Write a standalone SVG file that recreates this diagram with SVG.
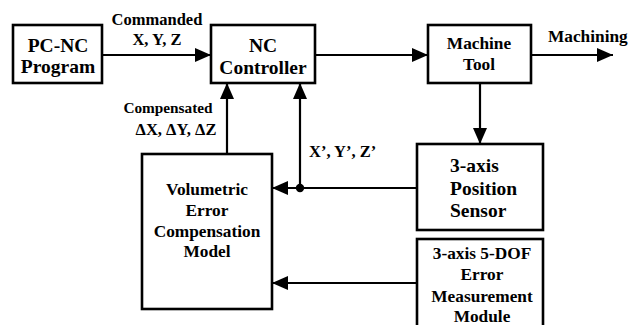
<svg xmlns="http://www.w3.org/2000/svg" width="637" height="325" viewBox="0 0 637 325">
  <style>
    .box { fill: #fff; stroke: #000; stroke-width: 2.6; }
    .wire { fill: none; stroke: #000; stroke-width: 2.2; }
    .t { font-family: 'Liberation Serif', 'Times New Roman', Times, 'DejaVu Serif', serif; font-weight: bold; fill: #000; }
    .big { font-size: 19.5px; }
    .mid { font-size: 17.3px; }
    .lbl { font-size: 16.5px; }
    .sm { font-size: 15.3px; }
    .c { text-anchor: middle; }
  </style>
  <defs>
    <marker id="arrow" markerUnits="userSpaceOnUse" markerWidth="17" markerHeight="14" refX="16" refY="7" orient="auto">
      <path d="M0,0 L16,7 L0,14 Z" fill="#000"/>
    </marker>
  </defs>

  <g id="connectors">
    <line class="wire" x1="102" y1="55" x2="211" y2="55" marker-end="url(#arrow)"/>
    <line class="wire" x1="315" y1="55" x2="428" y2="55" marker-end="url(#arrow)"/>
    <line class="wire" x1="531" y1="55" x2="613" y2="55" marker-end="url(#arrow)"/>
    <line class="wire" x1="480" y1="83" x2="480" y2="144" marker-end="url(#arrow)"/>
    <line class="wire" x1="227" y1="154" x2="227" y2="83" marker-end="url(#arrow)"/>
    <line class="wire" x1="300" y1="188" x2="300" y2="83" marker-end="url(#arrow)"/>
    <line class="wire" x1="417" y1="188" x2="272" y2="188" marker-end="url(#arrow)"/>
    <circle cx="300" cy="188" r="4.2" fill="#000"/>
    <line class="wire" x1="417" y1="283" x2="272" y2="283" marker-end="url(#arrow)"/>
    <text class="t lbl c" x="157" y="25" font-family="Liberation Serif, serif">Commanded</text>
    <text class="t lbl c" x="157" y="45" font-family="Liberation Serif, serif">X, Y, Z</text>
    <text class="t sm c" x="168" y="113" font-family="Liberation Serif, serif">Compensated</text>
    <text class="t lbl c" x="176" y="135" font-family="Liberation Serif, serif">ΔX, ΔY, ΔZ</text>
    <text class="t lbl" x="309" y="157" font-family="Liberation Serif, serif">X’, Y’, Z’</text>
    <text class="t mid" x="548" y="42" font-family="Liberation Serif, serif">Machining</text>
  </g>

  <g id="pcnc">
    <rect class="box" x="13" y="25" width="89" height="58"/>
    <text class="t big c" x="58" y="52">PC-NC</text>
    <text class="t big c" x="58" y="73">Program</text>
  </g>

  <g id="nc-controller">
    <rect class="box" x="211" y="25" width="104" height="58"/>
    <text class="t big c" x="263" y="52">NC</text>
    <text class="t big c" x="263" y="74">Controller</text>
  </g>

  <g id="machine-tool">
    <rect class="box" x="428" y="25" width="103" height="58"/>
    <text class="t mid c" x="479" y="49">Machine</text>
    <text class="t mid c" x="479" y="70">Tool</text>
  </g>

  <g id="position-sensor">
    <rect class="box" x="417" y="144" width="126" height="86"/>
    <text class="t big" x="450" y="172">3-axis</text>
    <text class="t big" x="450" y="195">Position</text>
    <text class="t big" x="450" y="217">Sensor</text>
  </g>

  <g id="error-module">
    <rect class="box" x="417" y="239" width="126" height="100"/>
    <text class="t mid c" x="482" y="259">3-axis 5-DOF</text>
    <text class="t mid c" x="482" y="280">Error</text>
    <text class="t mid c" x="482" y="302">Measurement</text>
    <text class="t mid c" x="482" y="322">Module</text>
  </g>

  <g id="compensation-model">
    <rect class="box" x="142" y="154" width="130" height="155"/>
    <text class="t mid c" x="207" y="195">Volumetric</text>
    <text class="t mid c" x="207" y="216">Error</text>
    <text class="t mid c" x="207" y="237">Compensation</text>
    <text class="t mid c" x="207" y="257">Model</text>
  </g>
</svg>
